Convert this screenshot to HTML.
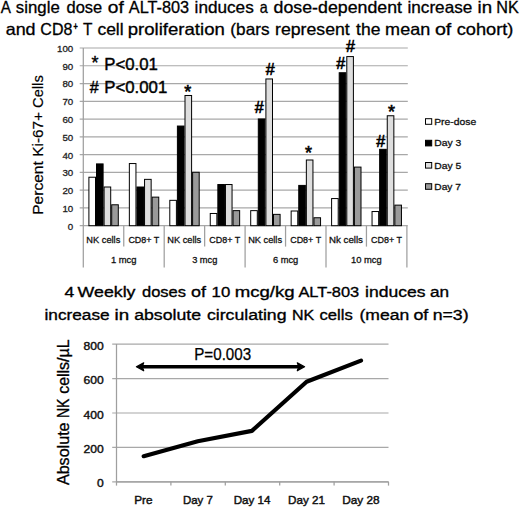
<!DOCTYPE html>
<html><head><meta charset="utf-8"><style>
html,body{margin:0;padding:0;background:#fff;}
svg{display:block;}
text{font-family:'Liberation Sans',sans-serif;}
</style></head><body>
<svg width="520" height="507" viewBox="0 0 520 507">
<rect width="520" height="507" fill="#fff"/>

<g fill="#000" stroke="#000" stroke-width="0.3" font-size="16.5">
<text x="0.71" y="12.5" textLength="10.17" lengthAdjust="spacingAndGlyphs">A</text>
<text x="15.89" y="12.5" textLength="43.88" lengthAdjust="spacingAndGlyphs">single</text>
<text x="66.55" y="12.5" textLength="35.72" lengthAdjust="spacingAndGlyphs">dose</text>
<text x="107.83" y="12.5" textLength="16.00" lengthAdjust="spacingAndGlyphs">of</text>
<text x="128.81" y="12.5" textLength="60.25" lengthAdjust="spacingAndGlyphs">ALT-803</text>
<text x="194.59" y="12.5" textLength="59.15" lengthAdjust="spacingAndGlyphs">induces</text>
<text x="259.74" y="12.5" textLength="7.99" lengthAdjust="spacingAndGlyphs">a</text>
<text x="273.60" y="12.5" textLength="128.41" lengthAdjust="spacingAndGlyphs">dose-dependent</text>
<text x="407.49" y="12.5" textLength="64.83" lengthAdjust="spacingAndGlyphs">increase</text>
<text x="477.49" y="12.5" textLength="14.55" lengthAdjust="spacingAndGlyphs">in</text>
<text x="496.31" y="12.5" textLength="22.53" lengthAdjust="spacingAndGlyphs">NK</text>
<text x="5.69" y="35.3" textLength="29.90" lengthAdjust="spacingAndGlyphs">and</text>
<text x="40.35" y="35.3" textLength="31.99" lengthAdjust="spacingAndGlyphs">CD8</text>
<text x="83.10" y="35.3" textLength="9.41" lengthAdjust="spacingAndGlyphs">T</text>
<text x="97.41" y="35.3" textLength="26.23" lengthAdjust="spacingAndGlyphs">cell</text>
<text x="127.74" y="35.3" textLength="97.07" lengthAdjust="spacingAndGlyphs">proliferation</text>
<text x="230.38" y="35.3" textLength="39.09" lengthAdjust="spacingAndGlyphs">(bars</text>
<text x="275.00" y="35.3" textLength="74.78" lengthAdjust="spacingAndGlyphs">represent</text>
<text x="356.09" y="35.3" textLength="24.31" lengthAdjust="spacingAndGlyphs">the</text>
<text x="385.13" y="35.3" textLength="45.07" lengthAdjust="spacingAndGlyphs">mean</text>
<text x="434.91" y="35.3" textLength="16.42" lengthAdjust="spacingAndGlyphs">of</text>
<text x="456.67" y="35.3" textLength="56.77" lengthAdjust="spacingAndGlyphs">cohort)</text>
<text x="73.56" y="29.9" font-size="10.5" stroke-width="0.6" textLength="4.19" lengthAdjust="spacingAndGlyphs">+</text>
</g>
<g stroke="#a8a8a8" stroke-width="1.2">
<line x1="79.7" y1="225.70" x2="407.8" y2="225.70"/>
<line x1="79.7" y1="207.93" x2="407.8" y2="207.93"/>
<line x1="79.7" y1="190.16" x2="407.8" y2="190.16"/>
<line x1="79.7" y1="172.39" x2="407.8" y2="172.39"/>
<line x1="79.7" y1="154.62" x2="407.8" y2="154.62"/>
<line x1="79.7" y1="136.85" x2="407.8" y2="136.85"/>
<line x1="79.7" y1="119.08" x2="407.8" y2="119.08"/>
<line x1="79.7" y1="101.31" x2="407.8" y2="101.31"/>
<line x1="79.7" y1="83.54" x2="407.8" y2="83.54"/>
<line x1="79.7" y1="65.77" x2="407.8" y2="65.77"/>
<line x1="79.7" y1="48.00" x2="407.8" y2="48.00"/>
</g>
<g font-size="9.4" fill="#222" stroke="#222" stroke-width="0.3" text-anchor="end">
<text x="73.2" y="229.60" textLength="5.40" lengthAdjust="spacingAndGlyphs">0</text>
<text x="73.2" y="211.83" textLength="10.80" lengthAdjust="spacingAndGlyphs">10</text>
<text x="73.2" y="194.06" textLength="10.80" lengthAdjust="spacingAndGlyphs">20</text>
<text x="73.2" y="176.29" textLength="10.80" lengthAdjust="spacingAndGlyphs">30</text>
<text x="73.2" y="158.52" textLength="10.80" lengthAdjust="spacingAndGlyphs">40</text>
<text x="73.2" y="140.75" textLength="10.80" lengthAdjust="spacingAndGlyphs">50</text>
<text x="73.2" y="122.98" textLength="10.80" lengthAdjust="spacingAndGlyphs">60</text>
<text x="73.2" y="105.21" textLength="10.80" lengthAdjust="spacingAndGlyphs">70</text>
<text x="73.2" y="87.44" textLength="10.80" lengthAdjust="spacingAndGlyphs">80</text>
<text x="73.2" y="69.67" textLength="10.80" lengthAdjust="spacingAndGlyphs">90</text>
<text x="73.2" y="51.90" textLength="16.20" lengthAdjust="spacingAndGlyphs">100</text>
</g>
<g stroke="#9f9f9f" stroke-width="1.25">
<line x1="83.3" y1="48" x2="83.3" y2="267.5"/>
<line x1="123.75" y1="225.7" x2="123.75" y2="246.6"/>
<line x1="164.20" y1="225.7" x2="164.20" y2="267.5"/>
<line x1="204.65" y1="225.7" x2="204.65" y2="246.6"/>
<line x1="245.10" y1="225.7" x2="245.10" y2="267.5"/>
<line x1="285.55" y1="225.7" x2="285.55" y2="246.6"/>
<line x1="326.00" y1="225.7" x2="326.00" y2="267.5"/>
<line x1="366.45" y1="225.7" x2="366.45" y2="246.6"/>
<line x1="406.90" y1="225.7" x2="406.90" y2="267.5"/>
</g>
<g stroke="#000" stroke-width="1">
<rect x="88.90" y="177.23" width="6.60" height="48.47" fill="#ffffff"/>
<rect x="96.50" y="163.91" width="6.60" height="61.80" fill="#000000"/>
<rect x="104.10" y="187.01" width="6.60" height="38.69" fill="#dedede"/>
<rect x="111.70" y="204.78" width="6.60" height="20.92" fill="#9a9a9a"/>
<rect x="129.35" y="163.55" width="6.60" height="62.15" fill="#ffffff"/>
<rect x="136.95" y="187.01" width="6.60" height="38.69" fill="#000000"/>
<rect x="144.55" y="179.36" width="6.60" height="46.34" fill="#dedede"/>
<rect x="152.15" y="197.13" width="6.60" height="28.57" fill="#9a9a9a"/>
<rect x="169.80" y="200.33" width="6.60" height="25.37" fill="#ffffff"/>
<rect x="177.40" y="126.05" width="6.60" height="99.65" fill="#000000"/>
<rect x="185.00" y="95.49" width="6.60" height="130.21" fill="#dedede"/>
<rect x="192.60" y="172.26" width="6.60" height="53.44" fill="#9a9a9a"/>
<rect x="210.25" y="213.48" width="6.60" height="12.22" fill="#ffffff"/>
<rect x="217.85" y="184.52" width="6.60" height="41.18" fill="#000000"/>
<rect x="225.45" y="184.52" width="6.60" height="41.18" fill="#dedede"/>
<rect x="233.05" y="210.64" width="6.60" height="15.06" fill="#9a9a9a"/>
<rect x="250.70" y="210.64" width="6.60" height="15.06" fill="#ffffff"/>
<rect x="258.30" y="118.95" width="6.60" height="106.75" fill="#000000"/>
<rect x="265.90" y="78.96" width="6.60" height="146.74" fill="#dedede"/>
<rect x="273.50" y="214.37" width="6.60" height="11.33" fill="#9a9a9a"/>
<rect x="291.15" y="211.00" width="6.60" height="14.70" fill="#ffffff"/>
<rect x="298.75" y="185.41" width="6.60" height="40.29" fill="#000000"/>
<rect x="306.35" y="160.00" width="6.60" height="65.70" fill="#dedede"/>
<rect x="313.95" y="217.75" width="6.60" height="7.95" fill="#9a9a9a"/>
<rect x="331.60" y="198.56" width="6.60" height="27.14" fill="#ffffff"/>
<rect x="339.20" y="72.74" width="6.60" height="152.96" fill="#000000"/>
<rect x="346.80" y="56.57" width="6.60" height="169.13" fill="#dedede"/>
<rect x="354.40" y="167.10" width="6.60" height="58.60" fill="#9a9a9a"/>
<rect x="372.05" y="211.53" width="6.60" height="14.17" fill="#ffffff"/>
<rect x="379.65" y="149.33" width="6.60" height="76.37" fill="#000000"/>
<rect x="387.25" y="115.75" width="6.60" height="109.95" fill="#dedede"/>
<rect x="394.85" y="205.13" width="6.60" height="20.57" fill="#9a9a9a"/>
</g>
<g font-size="9.7" fill="#111" stroke="#111" stroke-width="0.3">
<text x="86.36" y="243.4" textLength="33.89" lengthAdjust="spacingAndGlyphs">NK cells</text>
<text x="128.38" y="243.4" textLength="30.95" lengthAdjust="spacingAndGlyphs">CD8+ T</text>
<text x="167.26" y="243.4" textLength="33.89" lengthAdjust="spacingAndGlyphs">NK cells</text>
<text x="209.28" y="243.4" textLength="30.95" lengthAdjust="spacingAndGlyphs">CD8+ T</text>
<text x="248.16" y="243.4" textLength="33.89" lengthAdjust="spacingAndGlyphs">NK cells</text>
<text x="290.18" y="243.4" textLength="30.95" lengthAdjust="spacingAndGlyphs">CD8+ T</text>
<text x="329.02" y="243.4" textLength="33.95" lengthAdjust="spacingAndGlyphs">Nk cells</text>
<text x="371.08" y="243.4" textLength="30.95" lengthAdjust="spacingAndGlyphs">CD8+ T</text>
<text x="110.89" y="263.2" textLength="25.60" lengthAdjust="spacingAndGlyphs">1 mcg</text>
<text x="192.15" y="263.2" textLength="25.23" lengthAdjust="spacingAndGlyphs">3 mcg</text>
<text x="272.93" y="263.2" textLength="25.35" lengthAdjust="spacingAndGlyphs">6 mcg</text>
<text x="351.05" y="263.2" textLength="30.70" lengthAdjust="spacingAndGlyphs">10 mcg</text>
</g>
<text transform="translate(43.0,0) rotate(-90)" x="-214.78" y="0" font-size="15.4" fill="#000" stroke="#000" stroke-width="0.2" textLength="53.62" lengthAdjust="spacingAndGlyphs">Percent</text>
<text transform="translate(43.0,0) rotate(-90)" x="-156.66" y="0" font-size="15.4" fill="#000" stroke="#000" stroke-width="0.2" textLength="44.50" lengthAdjust="spacingAndGlyphs">Ki-67+</text>
<text transform="translate(43.0,0) rotate(-90)" x="-107.93" y="0" font-size="15.4" fill="#000" stroke="#000" stroke-width="0.2" textLength="32.65" lengthAdjust="spacingAndGlyphs">Cells</text>
<g fill="#000" stroke="#000" stroke-width="0.4" font-size="16">
<text x="94.9" y="69.3" font-size="18" text-anchor="middle">*</text>
<text x="89.8" y="92.9">#</text>
<text x="104.22" y="69.5" textLength="53.62" lengthAdjust="spacingAndGlyphs">P&lt;0.01</text>
<text x="104.22" y="93.3" textLength="63.00" lengthAdjust="spacingAndGlyphs">P&lt;0.001</text>
</g>
<g font-size="16" fill="#000" stroke="#000" stroke-width="0.6" text-anchor="middle">
<text x="187.7" y="98.0" font-size="18">*</text>
<text x="259.3" y="112.8">#</text>
<text x="270.1" y="74.9">#</text>
<text x="308.6" y="159.0" font-size="18">*</text>
<text x="340.6" y="69.1">#</text>
<text x="350.4" y="51.8">#</text>
<text x="380.6" y="146.5">#</text>
<text x="391.6" y="117.5" font-size="18">*</text>
</g>
<rect x="425.5" y="118.7" width="6.2" height="5.6" fill="#ffffff" stroke="#000" stroke-width="1"/>
<text x="434.20" y="124.8" font-size="9.6" fill="#111" stroke="#111" stroke-width="0.3" textLength="42.00" lengthAdjust="spacingAndGlyphs">Pre-dose</text>
<rect x="425.5" y="140.3" width="6.2" height="5.6" fill="#000000" stroke="#000" stroke-width="1"/>
<text x="434.30" y="146.4" font-size="9.6" fill="#111" stroke="#111" stroke-width="0.3" textLength="27.02" lengthAdjust="spacingAndGlyphs">Day 3</text>
<rect x="425.5" y="162.5" width="6.2" height="5.6" fill="#dedede" stroke="#000" stroke-width="1"/>
<text x="434.30" y="168.6" font-size="9.6" fill="#111" stroke="#111" stroke-width="0.3" textLength="26.99" lengthAdjust="spacingAndGlyphs">Day 5</text>
<rect x="425.5" y="183.7" width="6.2" height="5.6" fill="#9a9a9a" stroke="#000" stroke-width="1"/>
<text x="434.31" y="189.8" font-size="9.6" fill="#111" stroke="#111" stroke-width="0.3" textLength="26.57" lengthAdjust="spacingAndGlyphs">Day 7</text>
<g fill="#000" stroke="#000" stroke-width="0.35" font-size="15.5">
<text x="64.58" y="297.0" textLength="9.75" lengthAdjust="spacingAndGlyphs">4</text>
<text x="77.59" y="297.0" textLength="57.89" lengthAdjust="spacingAndGlyphs">Weekly</text>
<text x="141.97" y="297.0" textLength="44.05" lengthAdjust="spacingAndGlyphs">doses</text>
<text x="191.11" y="297.0" textLength="15.00" lengthAdjust="spacingAndGlyphs">of</text>
<text x="211.62" y="297.0" textLength="18.68" lengthAdjust="spacingAndGlyphs">10</text>
<text x="234.72" y="297.0" textLength="59.98" lengthAdjust="spacingAndGlyphs">mcg/kg</text>
<text x="298.43" y="297.0" textLength="60.81" lengthAdjust="spacingAndGlyphs">ALT-803</text>
<text x="364.99" y="297.0" textLength="60.44" lengthAdjust="spacingAndGlyphs">induces</text>
<text x="429.95" y="297.0" textLength="19.09" lengthAdjust="spacingAndGlyphs">an</text>
<text x="44.51" y="319.5" textLength="65.09" lengthAdjust="spacingAndGlyphs">increase</text>
<text x="114.51" y="319.5" textLength="14.61" lengthAdjust="spacingAndGlyphs">in</text>
<text x="134.22" y="319.5" textLength="66.77" lengthAdjust="spacingAndGlyphs">absolute</text>
<text x="206.92" y="319.5" textLength="79.64" lengthAdjust="spacingAndGlyphs">circulating</text>
<text x="291.95" y="319.5" textLength="22.26" lengthAdjust="spacingAndGlyphs">NK</text>
<text x="319.47" y="319.5" textLength="33.25" lengthAdjust="spacingAndGlyphs">cells</text>
<text x="359.48" y="319.5" textLength="49.68" lengthAdjust="spacingAndGlyphs">(mean</text>
<text x="413.42" y="319.5" textLength="14.89" lengthAdjust="spacingAndGlyphs">of</text>
<text x="432.68" y="319.5" textLength="35.89" lengthAdjust="spacingAndGlyphs">n=3)</text>
</g>
<g stroke="#a8a8a8" stroke-width="1.2">
<line x1="112.2" y1="481.80" x2="388.5" y2="481.80"/>
<line x1="112.2" y1="447.40" x2="388.5" y2="447.40"/>
<line x1="112.2" y1="413.00" x2="388.5" y2="413.00"/>
<line x1="112.2" y1="378.60" x2="388.5" y2="378.60"/>
<line x1="112.2" y1="344.20" x2="388.5" y2="344.20"/>
</g>
<g stroke="#9f9f9f" stroke-width="1.25">
<line x1="116.5" y1="344" x2="116.5" y2="485.6"/>
<line x1="116.5" y1="481.8" x2="388.5" y2="481.8"/>
<line x1="170.90" y1="481.8" x2="170.90" y2="485.6"/>
<line x1="225.30" y1="481.8" x2="225.30" y2="485.6"/>
<line x1="279.70" y1="481.8" x2="279.70" y2="485.6"/>
<line x1="334.10" y1="481.8" x2="334.10" y2="485.6"/>
<line x1="388.50" y1="481.8" x2="388.50" y2="485.6"/>
</g>
<g font-size="10.5" fill="#111" stroke="#111" stroke-width="0.4" text-anchor="end">
<text x="103.8" y="487.40" textLength="6.75" lengthAdjust="spacingAndGlyphs">0</text>
<text x="103.8" y="453.00" textLength="20.25" lengthAdjust="spacingAndGlyphs">200</text>
<text x="103.8" y="418.60" textLength="20.25" lengthAdjust="spacingAndGlyphs">400</text>
<text x="103.8" y="384.20" textLength="20.25" lengthAdjust="spacingAndGlyphs">600</text>
<text x="103.8" y="349.80" textLength="20.25" lengthAdjust="spacingAndGlyphs">800</text>
</g>
<g font-size="11.6" fill="#111" stroke="#111" stroke-width="0.45">
<text x="134.20" y="504.4" textLength="18.34" lengthAdjust="spacingAndGlyphs">Pre</text>
<text x="182.88" y="504.4" textLength="29.89" lengthAdjust="spacingAndGlyphs">Day 7</text>
<text x="233.67" y="504.4" textLength="36.84" lengthAdjust="spacingAndGlyphs">Day 14</text>
<text x="288.11" y="504.4" textLength="36.98" lengthAdjust="spacingAndGlyphs">Day 21</text>
<text x="342.25" y="504.4" textLength="37.44" lengthAdjust="spacingAndGlyphs">Day 28</text>
</g>
<text transform="translate(69.3,0) rotate(-90)" x="-485.09" y="0" font-size="15.8" fill="#000" stroke="#000" stroke-width="0.3" textLength="62.65" lengthAdjust="spacingAndGlyphs">Absolute</text>
<text transform="translate(69.3,0) rotate(-90)" x="-418.11" y="0" font-size="15.8" fill="#000" stroke="#000" stroke-width="0.3" textLength="19.52" lengthAdjust="spacingAndGlyphs">NK</text>
<text transform="translate(69.3,0) rotate(-90)" x="-393.83" y="0" font-size="15.8" fill="#000" stroke="#000" stroke-width="0.3" textLength="54.41" lengthAdjust="spacingAndGlyphs">cells/µL</text>
<polyline fill="none" stroke="#000" stroke-width="4.2" stroke-linecap="round" stroke-linejoin="round" points="143.7,456.2 197.8,441.3 251.9,430.9 306.6,381.8 361.0,360.6"/>
<line x1="141" y1="366.8" x2="299" y2="366.8" stroke="#000" stroke-width="3.6"/>
<path d="M136.4 366.8 L143.7 362.8 L142.2 366.8 L143.7 370.8 Z" fill="#000" stroke="#000" stroke-width="1.2" stroke-linejoin="round"/>
<path d="M304.6 366.8 L297.3 362.8 L298.8 366.8 L297.3 370.8 Z" fill="#000" stroke="#000" stroke-width="1.2" stroke-linejoin="round"/>
<text x="194.28" y="359.5" font-size="15.6" fill="#000" stroke="#000" stroke-width="0.25" textLength="56.86" lengthAdjust="spacingAndGlyphs">P=0.003</text>
</svg></body></html>
